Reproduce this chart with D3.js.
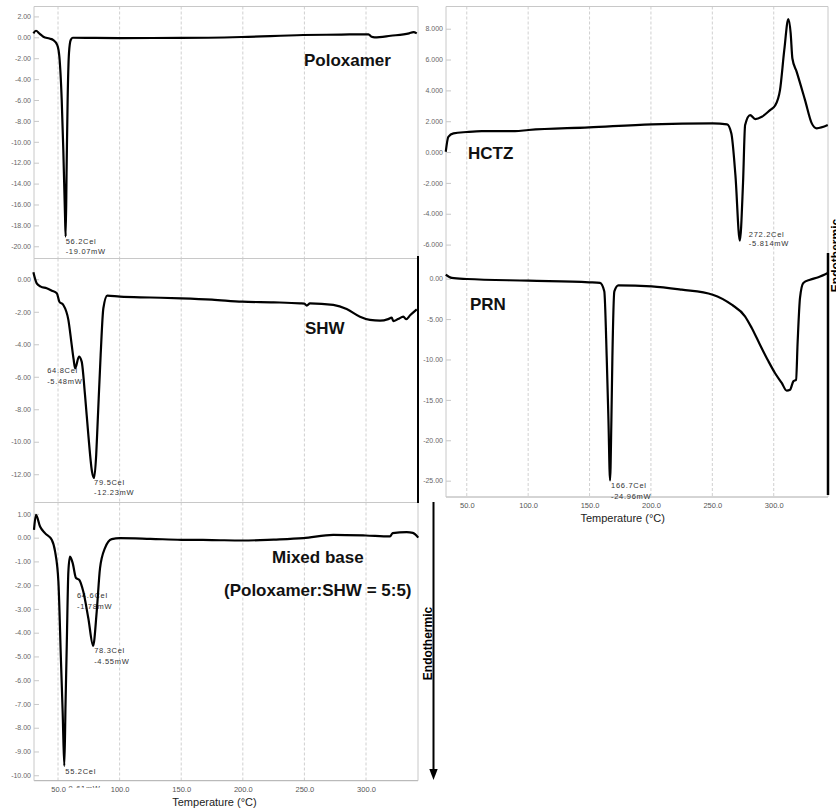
<!DOCTYPE html>
<html>
<head>
<meta charset="utf-8">
<script src="https://cdn.jsdelivr.net/npm/d3@7"></script>
<style>
  body { margin: 0; background: #fff; }
  svg { display: block; font-family: "Liberation Sans", Arial, sans-serif; }
</style>
</head>
<body>
<svg id="chart" width="836" height="810"></svg>
<script>

// ------------------------------------------------------
// DATA (temperature in Cel, heat flow in mW)
// ------------------------------------------------------
var gridTemps = [50, 100, 150, 200, 250, 300];

var poloxamerTicks = [2, 0, -2, -4, -6, -8, -10, -12, -14, -16, -18, -20];
var shwTicks = [0, -2, -4, -6, -8, -10, -12];
var mixedTicks = [1, 0, -1, -2, -3, -4, -5, -6, -7, -8, -9, -10];
var hctzTicks = [8, 6, 4, 2, 0, -2, -4, -6];
var prnTicks = [0, -5, -10, -15, -20, -25];

var poloxamerTemp = [30, 32.1, 35, 38.1, 43, 46.2, 49.4, 51.1, 53, 54.3, 55.7, 56.2, 57.0, 57.8, 58.9, 60.3, 61.9, 80, 100, 150, 199, 249, 280, 298.4, 302, 304.5, 307, 320, 335, 338.5, 341.2];
var poloxamerHeat = [0.38, 0.63, 0.35, 0.06, -0.12, -0.26, -0.74, -1.86, -6, -10.8, -17.2, -19.07, -12.4, -6, -1.5, -0.26, -0.04, -0.06, -0.07, -0.06, 0.03, 0.22, 0.26, 0.29, 0.29, 0.05, 0.0, 0.15, 0.38, 0.5, 0.38];

var shwTemp = [30, 32.7, 36, 40.8, 45, 49, 51.1, 54.3, 58.4, 61.1, 62.6, 63.9, 67.0, 69.2, 71.9, 74.6, 77.5, 79.3, 81, 82.2, 84.6, 86.8, 90, 100.3, 125, 150, 175, 199.6, 225, 246.4, 250, 251.9, 254.5, 273.4, 284.3, 295.1, 303.2, 311.4, 318, 320.8, 322.2, 326, 330.3, 332.5, 336, 341.2];
var shwHeat = [0.43, -0.25, -0.45, -0.55, -0.7, -0.86, -1.38, -1.58, -2.5, -4.04, -4.9, -5.48, -4.76, -5.07, -7.12, -9.58, -11.8, -12.23, -10.8, -8.76, -4.66, -1.78, -1.0, -1.07, -1.12, -1.17, -1.25, -1.38, -1.42, -1.48, -1.5, -1.62, -1.48, -1.58, -1.83, -2.3, -2.5, -2.55, -2.45, -2.36, -2.57, -2.45, -2.3, -2.46, -2.2, -1.85];

var mixedTemp = [30.5, 32.1, 35.4, 39.4, 44.9, 47.6, 50.3, 52.4, 53.8, 55.1, 56.1, 57.1, 58.4, 59.7, 61.9, 64.6, 67.3, 70.5, 74.6, 78.5, 81.4, 84.1, 88.1, 93.6, 100.3, 125, 150, 175, 199.6, 225, 249.1, 273.4, 299.7, 319.5, 321.6, 333, 338, 342.4];
var mixedHeat = [0.33, 0.96, 0.47, 0.19, -0.09, -0.58, -1.85, -5.2, -7.4, -9.61, -7.0, -4.5, -1.43, -0.8, -1.07, -1.7, -1.78, -2.27, -3.39, -4.55, -3.11, -1.28, -0.44, -0.06, -0.02, -0.05, -0.09, -0.1, -0.12, -0.08, -0.02, 0.12, 0.09, 0.05, 0.19, 0.23, 0.2, 0.0];

var hctzTemp = [32.9, 35, 39.2, 50, 62.2, 89.3, 100.2, 149.6, 200.7, 250.3, 262, 265.5, 268.8, 272.4, 275, 276.7, 280.8, 284.9, 290.3, 297, 301, 305.1, 308.6, 311.9, 313.8, 315.2, 318.7, 325.5, 331, 335, 344];
var hctzHeat = [0.02, 0.99, 1.21, 1.3, 1.36, 1.36, 1.43, 1.6, 1.8, 1.86, 1.8, 1.2, -1.5, -5.75, -2.0, 1.75, 2.4, 2.14, 2.29, 2.72, 3.0, 4.02, 6.62, 8.63, 7.7, 6.07, 5.2, 3.37, 1.86, 1.54, 1.75];

var prnTemp = [32.9, 37.8, 50, 100.2, 149.6, 158.5, 162, 164, 165.4, 166.7, 167.8, 168.6, 170.2, 173.5, 200.7, 225.1, 250.3, 265.8, 276.6, 282.1, 288.8, 295.6, 301, 306.5, 310.6, 313.3, 316, 318.2, 319.5, 321.4, 324.1, 329.6, 336.3, 344];
var prnHeat = [0.5, 0.09, -0.04, -0.25, -0.45, -0.53, -1.56, -9.8, -17.5, -24.96, -17.5, -9.8, -1.56, -0.82, -0.94, -1.36, -1.98, -3.22, -4.65, -6.1, -8.17, -10.2, -11.67, -12.9, -13.86, -13.74, -12.7, -12.5, -7.75, -2.39, -0.53, -0.12, 0.17, 0.7];

// peak annotations: temperature, heat flow, label text
var poloxamerPeaks = [{t: 56.2, v: -19.07, a: "56.2Cel", b: "-19.07mW", dx: 0, dy: 7, gap: 10}];
var shwPeaks = [
  {t: 63.9, v: -5.48, a: "64.8Cel", b: "-5.48mW", dx: -28, dy: 5, gap: 11},
  {t: 79.3, v: -12.23, a: "79.5Cel", b: "-12.23mW", dx: 0, dy: 7, gap: 10}
];
var mixedPeaks = [
  {t: 55.1, v: -9.61, a: "55.2Cel", b: "-9.61mW", dx: 1, dy: 8, gap: 17},
  {t: 64.6, v: -1.78, a: "64.6Cel", b: "-1.78mW", dx: 1, dy: 18, gap: 11},
  {t: 78.5, v: -4.55, a: "78.3Cel", b: "-4.55mW", dx: 1, dy: 7, gap: 11}
];
var hctzPeaks = [{t: 272.4, v: -5.814, a: "272.2Cel", b: "-5.814mW", dx: 9, dy: -5, gap: 9}];
var prnPeaks = [{t: 166.7, v: -24.96, a: "166.7Cel", b: "-24.96mW", dx: 1, dy: 8, gap: 10.5}];

var svg = d3.select("#chart");

// ---------------------------------------------------
// One DSC panel
// ---------------------------------------------------
function drawPanel(p, idx) {
    var x = d3.scaleLinear().domain(p.tDomain).range([p.left, p.right]);
    var y = d3.scaleLinear().domain(p.yDomain).range([p.top, p.bottom]);
    var g = svg.append("g");

    g.append("clipPath").attr("id", "clip" + idx)
        .append("rect")
        .attr("x", p.left).attr("y", p.top)
        .attr("width", p.right - p.left + 30)
        .attr("height", p.bottom - p.top + 7);

    // dashed grid
    g.append("g").selectAll("line")
        .data(gridTemps)
        .enter().append("line")
        .attr("x1", function(d) { return x(d); })
        .attr("x2", function(d) { return x(d); })
        .attr("y1", p.top)
        .attr("y2", p.bottom)
        .attr("stroke", "#c4c4c4")
        .attr("stroke-width", 0.8)
        .attr("stroke-dasharray", "3,2");

    // frame
    var fr = g.append("g").attr("stroke", "#c8c8c8").attr("stroke-width", 1);
    if (p.frame.indexOf("t") >= 0) fr.append("line").attr("x1", p.left).attr("x2", p.right).attr("y1", p.top).attr("y2", p.top);
    if (p.frame.indexOf("b") >= 0) fr.append("line").attr("x1", p.left).attr("x2", p.right).attr("y1", p.bottom).attr("y2", p.bottom).attr("stroke", "#aaa");
    if (p.frame.indexOf("l") >= 0) fr.append("line").attr("x1", p.left).attr("x2", p.left).attr("y1", p.top).attr("y2", p.bottom);
    if (p.frame.indexOf("r") >= 0) fr.append("line").attr("x1", p.right).attr("x2", p.right).attr("y1", p.top).attr("y2", p.bottom);

    // y axis
    var ya = g.append("g")
        .attr("transform", "translate(" + p.left + ",0)")
        .call(d3.axisLeft(y).tickValues(p.ticks)
            .tickFormat(function(d) { return d.toFixed(p.dec); })
            .tickSize(-5).tickPadding(3));
    ya.select(".domain").remove();
    ya.selectAll(".tick line").attr("stroke", "#c8c8c8");
    ya.selectAll(".tick text").attr("fill", "#666").attr("font-size", 7)
        .attr("font-family", "Liberation Sans, Arial, sans-serif");

    // x axis (bottom panels only)
    if (p.xAxis) {
        var xa = g.append("g")
            .attr("transform", "translate(0," + p.bottom + ")")
            .call(d3.axisBottom(x).tickValues(gridTemps)
                .tickFormat(function(d) { return d.toFixed(1); })
                .tickSize(0).tickPadding(6));
        xa.select(".domain").remove();
        xa.selectAll(".tick text").attr("fill", "#555").attr("font-size", 7.5)
            .attr("font-family", "Liberation Sans, Arial, sans-serif");

        g.append("text")
            .attr("x", x(177))
            .attr("y", p.bottom + 25)
            .attr("text-anchor", "middle")
            .attr("font-size", 11)
            .attr("fill", "#222")
            .text("Temperature (\u00B0C)");
    }

    // peak labels
    var ann = g.append("g").attr("clip-path", "url(#clip" + idx + ")")
        .attr("font-size", 7.5).attr("fill", "#333").attr("letter-spacing", 0.7);
    p.peaks.forEach(function(k) {
        ann.append("text").attr("x", x(k.t) + k.dx).attr("y", y(k.v) + k.dy).text(k.a);
        ann.append("text").attr("x", x(k.t) + k.dx).attr("y", y(k.v) + k.dy + k.gap).text(k.b);
    });

    // curve
    var pts = p.temp.map(function(t, i) { return [t, p.heat[i]]; });
    var line = d3.line()
        .x(function(d) { return x(d[0]); })
        .y(function(d) { return y(d[1]); })
        .curve(d3.curveMonotoneX);
    g.append("path")
        .datum(pts)
        .attr("d", line)
        .attr("fill", "none")
        .attr("stroke", "#000")
        .attr("stroke-width", 2.2)
        .attr("stroke-linejoin", "round");

    // sample names
    p.titles.forEach(function(tt) {
        g.append("text")
            .attr("x", tt[1]).attr("y", tt[2])
            .attr("font-size", 17).attr("font-weight", "bold").attr("fill", "#111")
            .text(tt[0]);
    });
}

var leftT = [30.5, 342.2];
var rightT = [33.1, 344.2];

var panels = [
    {left: 34, right: 418, top: 6.5, bottom: 258.5, tDomain: leftT, yDomain: [2.95, -21.17], ticks: poloxamerTicks, dec: 2,
     temp: poloxamerTemp, heat: poloxamerHeat, peaks: poloxamerPeaks, frame: "tlr", xAxis: false,
     titles: [["Poloxamer", 304, 65.5]]},
    {left: 34, right: 418, top: 258.5, bottom: 502.5, tDomain: leftT, yDomain: [1.28, -13.74], ticks: shwTicks, dec: 2,
     temp: shwTemp, heat: shwHeat, peaks: shwPeaks, frame: "tlr", xAxis: false,
     titles: [["SHW", 305, 334]]},
    {left: 34, right: 418, top: 502.5, bottom: 780.7, tDomain: leftT, yDomain: [1.48, -10.23], ticks: mixedTicks, dec: 2,
     temp: mixedTemp, heat: mixedHeat, peaks: mixedPeaks, frame: "tlbr", xAxis: true,
     titles: [["Mixed base", 272, 562.5], ["(Poloxamer:SHW = 5:5)", 224, 595.5]]},
    {left: 446, right: 828, top: 6.5, bottom: 258, tDomain: rightT, yDomain: [9.44, -6.87], ticks: hctzTicks, dec: 3,
     temp: hctzTemp, heat: hctzHeat, peaks: hctzPeaks, frame: "tlr", xAxis: false,
     titles: [["HCTZ", 468, 159]]},
    {left: 446, right: 828, top: 258, bottom: 497, tDomain: rightT, yDomain: [2.56, -27.02], ticks: prnTicks, dec: 2,
     temp: prnTemp, heat: prnHeat, peaks: prnPeaks, frame: "lbr", xAxis: true,
     titles: [["PRN", 470, 310]]}
];

panels.forEach(drawPanel);

// ---------------------------------------------------
// Separator bars and "Endothermic" arrows
// ---------------------------------------------------
svg.append("line").attr("x1", 418).attr("x2", 418).attr("y1", 256).attr("y2", 503)
    .attr("stroke", "#000").attr("stroke-width", 2);
svg.append("line").attr("x1", 828).attr("x2", 828).attr("y1", 253).attr("y2", 495)
    .attr("stroke", "#000").attr("stroke-width", 2.5);

svg.append("line").attr("x1", 433.5).attr("x2", 433.5).attr("y1", 502).attr("y2", 771)
    .attr("stroke", "#000").attr("stroke-width", 2);
svg.append("path").attr("d", "M429.3,769 L437.7,769 L433.5,780 Z").attr("fill", "#000");

svg.append("text")
    .attr("transform", "translate(432,643.5) rotate(-90)")
    .attr("text-anchor", "middle")
    .attr("font-size", 12).attr("font-weight", "bold").attr("fill", "#000")
    .text("Endothermic");
svg.append("text")
    .attr("transform", "translate(840,255.5) rotate(-90)")
    .attr("text-anchor", "middle")
    .attr("font-size", 12).attr("font-weight", "bold").attr("fill", "#000")
    .text("Endothermic");

</script>
</body>
</html>
